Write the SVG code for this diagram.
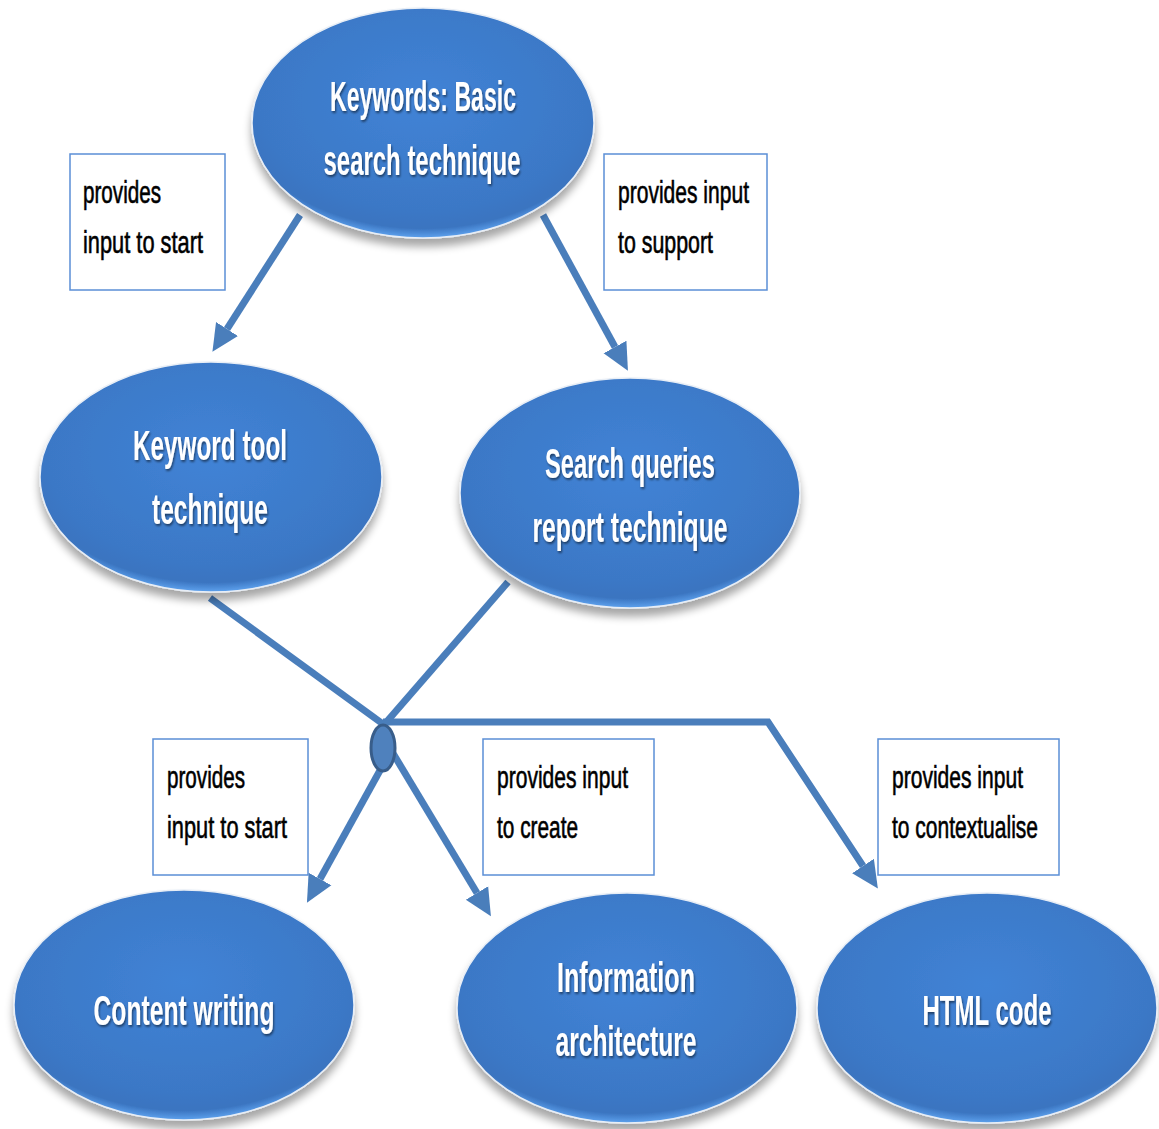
<svg xmlns="http://www.w3.org/2000/svg" width="1159" height="1129" viewBox="0 0 1159 1129">
<defs>
<radialGradient id="eg" cx="50%" cy="40%" r="60%">
<stop offset="0" stop-color="#4183d6"/>
<stop offset="0.8" stop-color="#3b78c6"/>
<stop offset="0.93" stop-color="#3a74c0"/>
<stop offset="1" stop-color="#5ea2ee"/>
</radialGradient>
<filter id="sh" x="-10%" y="-10%" width="120%" height="130%">
<feGaussianBlur in="SourceAlpha" stdDeviation="4"/>
<feOffset dx="0" dy="8" result="b"/>
<feComponentTransfer in="b" result="c"><feFuncA type="linear" slope="0.35"/></feComponentTransfer>
<feMerge><feMergeNode in="c"/><feMergeNode in="SourceGraphic"/></feMerge>
</filter>
<filter id="ts" x="-5%" y="-20%" width="110%" height="150%">
<feGaussianBlur in="SourceAlpha" stdDeviation="1"/>
<feOffset dx="1" dy="2" result="b"/>
<feComponentTransfer in="b" result="c"><feFuncA type="linear" slope="0.5"/></feComponentTransfer>
<feMerge><feMergeNode in="c"/><feMergeNode in="SourceGraphic"/></feMerge>
</filter>
<marker id="ah" markerUnits="userSpaceOnUse" markerWidth="30" markerHeight="30" viewBox="0 -15 30 30" refX="0" refY="0" orient="auto">
<path d="M0,-13 L27,0 L0,13 z" fill="#4a7ebb"/>
</marker>
</defs>
<style>
.node ellipse{fill:url(#eg);stroke:#e8eef6;stroke-width:1.5;filter:url(#sh)}
.nt{font-family:"Liberation Sans",Arial,sans-serif;font-weight:bold;font-size:42px;fill:#ffffff;text-anchor:middle;filter:url(#ts)}
.box rect{fill:#ffffff;stroke:#5b8fd6;stroke-width:1.5}
.bt{font-family:"Liberation Sans",Arial,sans-serif;font-size:31px;fill:#000000;stroke:#000000;stroke-width:0.6}
.conn{fill:none;stroke:#4a7ebb;stroke-width:7}
</style>
<rect width="1159" height="1129" fill="#ffffff"/>

<g id="connectors">
<line class="conn" x1="300" y1="215" x2="227" y2="329" marker-end="url(#ah)"/>
<line class="conn" x1="543" y1="215" x2="615" y2="347" marker-end="url(#ah)"/>
<line class="conn" x1="210" y1="598" x2="383" y2="724"/>
<line class="conn" x1="508" y1="582" x2="383" y2="726"/>
<polyline class="conn" points="383,722 768,722 863,866" marker-end="url(#ah)"/>
<line class="conn" x1="383" y1="765" x2="320" y2="879" marker-end="url(#ah)"/>
<line class="conn" x1="385" y1="740" x2="477" y2="893" marker-end="url(#ah)"/>
<ellipse id="junction" cx="383" cy="748" rx="12" ry="23" fill="#4f81bd" stroke="#385d8a" stroke-width="3"/>
</g>

<g id="box-start-1" class="box">
<rect x="70" y="154" width="155" height="136"/>
<text class="bt" x="83" y="203" textLength="78" lengthAdjust="spacingAndGlyphs">provides</text>
<text class="bt" x="83" y="253" textLength="120" lengthAdjust="spacingAndGlyphs">input to start</text>
</g>
<g id="box-support" class="box">
<rect x="604" y="154" width="163" height="136"/>
<text class="bt" x="618" y="203" textLength="131" lengthAdjust="spacingAndGlyphs">provides input</text>
<text class="bt" x="618" y="253" textLength="95" lengthAdjust="spacingAndGlyphs">to support</text>
</g>
<g id="box-start-2" class="box">
<rect x="153" y="739" width="155" height="136"/>
<text class="bt" x="167" y="788" textLength="78" lengthAdjust="spacingAndGlyphs">provides</text>
<text class="bt" x="167" y="838" textLength="120" lengthAdjust="spacingAndGlyphs">input to start</text>
</g>
<g id="box-create" class="box">
<rect x="483" y="739" width="171" height="136"/>
<text class="bt" x="497" y="788" textLength="131" lengthAdjust="spacingAndGlyphs">provides input</text>
<text class="bt" x="497" y="838" textLength="81" lengthAdjust="spacingAndGlyphs">to create</text>
</g>
<g id="box-contextualise" class="box">
<rect x="878" y="739" width="181" height="136"/>
<text class="bt" x="892" y="788" textLength="131" lengthAdjust="spacingAndGlyphs">provides input</text>
<text class="bt" x="892" y="838" textLength="146" lengthAdjust="spacingAndGlyphs">to contextualise</text>
</g>

<g id="node-keywords" class="node">
<ellipse cx="423" cy="123" rx="171" ry="115"/>
<text class="nt" x="423" y="111" textLength="186" lengthAdjust="spacingAndGlyphs">Keywords: Basic</text>
<text class="nt" x="422" y="175" textLength="197" lengthAdjust="spacingAndGlyphs">search technique</text>
</g>
<g id="node-keyword-tool" class="node">
<ellipse cx="211" cy="477" rx="171" ry="115"/>
<text class="nt" x="210" y="460" textLength="154" lengthAdjust="spacingAndGlyphs">Keyword tool</text>
<text class="nt" x="210" y="524" textLength="116" lengthAdjust="spacingAndGlyphs">technique</text>
</g>
<g id="node-search-queries" class="node">
<ellipse cx="630" cy="493" rx="170" ry="115"/>
<text class="nt" x="630" y="478" textLength="170" lengthAdjust="spacingAndGlyphs">Search queries</text>
<text class="nt" x="630" y="542" textLength="195" lengthAdjust="spacingAndGlyphs">report technique</text>
</g>
<g id="node-content-writing" class="node">
<ellipse cx="184" cy="1005" rx="170" ry="115"/>
<text class="nt" x="184" y="1025" textLength="181" lengthAdjust="spacingAndGlyphs">Content writing</text>
</g>
<g id="node-information-architecture" class="node">
<ellipse cx="627" cy="1008" rx="170" ry="115"/>
<text class="nt" x="626" y="992" textLength="138" lengthAdjust="spacingAndGlyphs">Information</text>
<text class="nt" x="626" y="1056" textLength="141" lengthAdjust="spacingAndGlyphs">architecture</text>
</g>
<g id="node-html-code" class="node">
<ellipse cx="987" cy="1008" rx="170" ry="115"/>
<text class="nt" x="987" y="1025" textLength="129" lengthAdjust="spacingAndGlyphs">HTML code</text>
</g>
</svg>
